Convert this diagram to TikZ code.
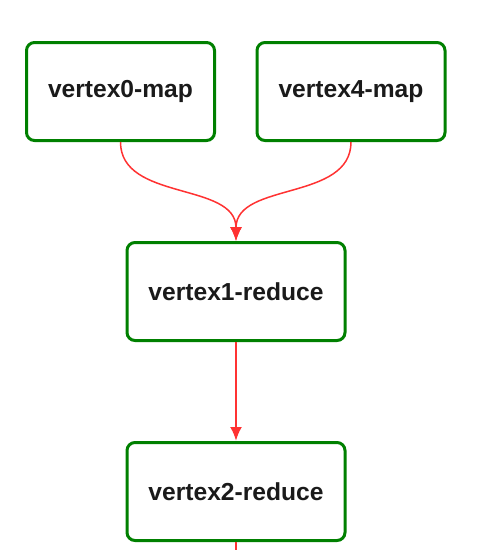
\documentclass[tikz,border=0pt]{standalone}
\usepackage{fontspec}
\setmainfont{Liberation Sans}
\usepackage{tikz}
\usetikzlibrary{positioning}
\usetikzlibrary{arrows.meta}
\usepackage{xcolor}
\definecolor{boxgreen}{RGB}{0,128,0}
\definecolor{edgered}{RGB}{255,50,50}
\definecolor{labeltext}{RGB}{26,26,26}
\tikzset{vertex box/.style={
          draw=boxgreen,
          line width=3pt,
          rounded corners=8pt,
          minimum height=98pt,
          text=labeltext,
          font=\fontsize{24.6}{30}\selectfont\bfseries
          },
        map box/.style={vertex box, minimum width=188pt},
        reduce box/.style={vertex box, minimum width=218pt},
        flow/.style={
          draw=edgered,
          line width=1.5pt,
          -{Latex[length=14pt,width=12pt]}
          },
}

\begin{document}
\begin{tikzpicture}[x=1pt, y=-1pt]
      \useasboundingbox (0,0) rectangle (500,550);
      % MAP VERTICES
      \node[map box] (vertex0) at (120.5,91.5) {vertex0-map};
      \node[map box] (vertex4) at (351,91.5) {vertex4-map};

      % REDUCE VERTICES
      \node[reduce box] (vertex1) at (236,291.5) {vertex1-reduce};
      \node[reduce box, below=99pt of vertex1] (vertex2) {vertex2-reduce};
      \coordinate (out) at (vertex2.south |- 0,550);

      % EDGES
      \draw[flow] (vertex0.south) to[out=-90, in=90] (vertex1.north);
      \draw[flow] (vertex4.south) to[out=-90, in=90] (vertex1.north);
      \draw[flow, line width=2.4pt] (vertex1.south) -- (vertex2.north);
      \draw[flow, line width=2.4pt, -] (vertex2.south) -- (out);

\end{tikzpicture}
\end{document}
